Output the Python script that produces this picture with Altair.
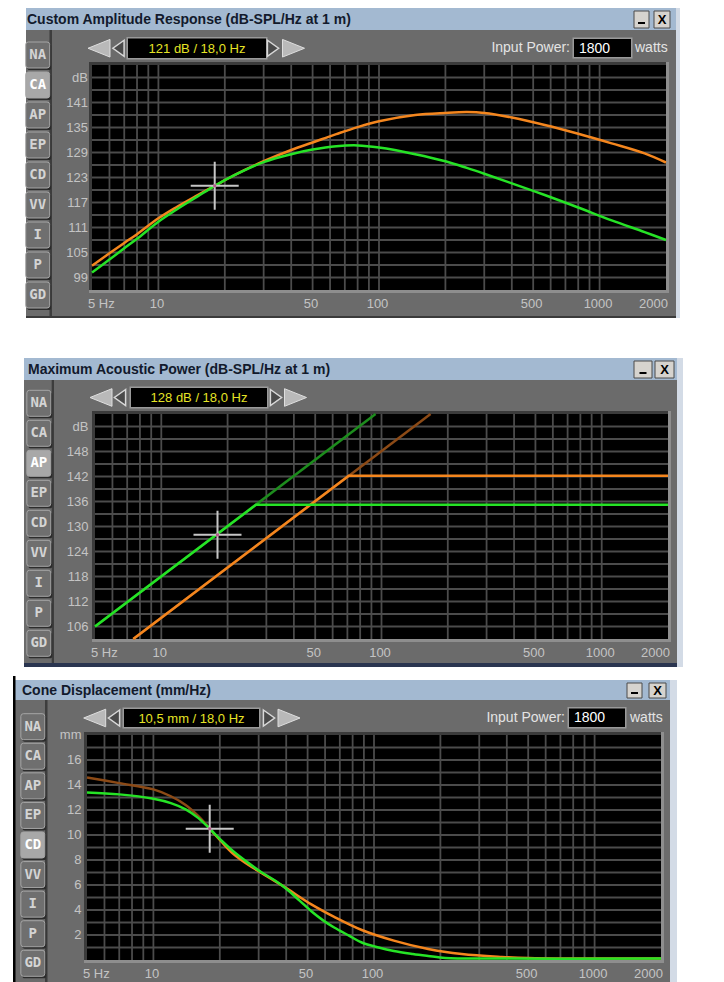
import altair as alt
import pandas as pd

SANS = "Liberation Sans"
MONO = "DejaVu Sans Mono"

# palette
ORANGE = "#f4861e"
BROWN = "#8c4a16"
GREEN = "#26e326"
DARK_GREEN = "#1d8c1d"
GRID = "#4b4b4b"
AXIS_TEXT = "#c4c4c4"
BODY = "#6b6b6b"
TITLE_BAR = "#a3b9d1"
EDGE = "#d3dbe6"
BEVEL_LIGHT = "#8e8e8e"
BEVEL_DARK = "#3b3b3b"
READOUT = "#e6e425"

TAB_NAMES = ["NA", "CA", "AP", "EP", "CD", "VV", "I", "P", "GD"]
GRID_FREQS = [6, 7, 8, 9, 10, 20, 30, 40, 50, 60, 70, 80, 90,
              100, 200, 300, 400, 500, 600, 700, 800, 900, 1000]
MID_FREQ_LABELS = [10, 50, 100, 500, 1000]
FREQ_MIN, FREQ_MAX = 5, 2000
INPUT_POWER_W = 1800
CURSOR_HZ = 18.0

# Custom Amplitude Response (dB-SPL)
ca_freq = [5, 6, 7, 8, 10, 12, 15, 18, 22, 30, 40, 50, 64, 80, 100, 146,
           200, 250, 300, 400, 564, 800, 1134, 1600, 2000]
ca_orange_db = [101.8, 104.8, 107.3, 109.4, 113.2, 115.8, 118.7, 121.0, 123.5,
                126.9, 129.6, 131.4, 133.4, 135.1, 136.5, 138.0, 138.5, 138.7,
                138.5, 137.4, 135.6, 133.5, 131.2, 128.8, 126.6]
ca_green_db = [100.2, 103.3, 106.0, 108.3, 112.4, 115.2, 118.4, 121.0, 123.5,
               126.7, 128.6, 129.7, 130.5, 130.7, 130.2, 128.6, 126.9, 125.3,
               123.9, 121.6, 118.8, 115.8, 112.7, 109.9, 108.0]
ca_cursor_db = 121

# Maximum Acoustic Power (dB-SPL)
ap_green_freq = [5, 26.9, 2000]
ap_green_db = [106, 135.2, 135.2]
ap_green_ext_freq = [5, 94]
ap_green_ext_db = [106, 157]
ap_orange_freq = [7.46, 71, 2000]
ap_orange_db = [103, 142.2, 142.2]
ap_orange_ext_freq = [7.46, 167]
ap_orange_ext_db = [103, 157]
ap_cursor_db = 128

# Cone Displacement (mm)
cd_orange_freq = [5, 7, 10, 12, 14, 16, 18, 20.5, 23, 27, 31, 40, 52, 66, 88,
                  123, 176, 250, 380, 500, 800, 2000]
cd_orange_mm = [14.6, 14.15, 13.65, 13.1, 12.4, 11.5, 10.5, 9.4, 8.5, 7.6, 6.95,
                5.75, 4.45, 3.45, 2.4, 1.55, 0.88, 0.48, 0.25, 0.16, 0.12, 0.12]
cd_green_freq = [5, 7, 10, 12, 14, 16, 18, 20.5, 23, 27, 31, 36, 40, 46, 52, 59,
                 66, 77, 88, 105, 123, 150, 176, 210, 250, 2000]
cd_green_mm = [13.4, 13.25, 12.9, 12.55, 12.05, 11.35, 10.5, 9.5, 8.7, 7.75, 7.0,
               6.3, 5.7, 4.75, 3.9, 3.15, 2.6, 1.95, 1.4, 1.0, 0.72, 0.48, 0.32,
               0.16, 0.12, 0.12]
cd_cursor_mm = 10.5

CROSS = "M-1,0L1,0M0,-1L0,1"
TAB_PATH = ("M-0.72,-1L0.72,-1Q0.92,-1 0.92,-0.8L0.92,0.8Q0.92,1 0.72,1"
            "L-0.72,1Q-0.92,1 -0.92,0.8L-0.92,-0.8Q-0.92,-1 -0.72,-1Z")
BIG_LEFT = "M1,-0.8L-1,0L1,0.8Z"
BIG_RIGHT = "M-1,-0.8L1,0L-1,0.8Z"
SMALL_LEFT = "M0.7,-1L-0.7,0L0.7,1Z"
SMALL_RIGHT = "M-0.7,-1L0.7,0L-0.7,1Z"

one = pd.DataFrame({"k": [0]})


def rect(x1, x2, y1, y2, fill, **kw):
    return alt.Chart(one).mark_rect(fill=fill, **kw).encode(
        x=alt.value(x1), x2=alt.value(x2), y=alt.value(y1), y2=alt.value(y2))


def text(s, x, y, size=13, color="#000000", align="left", weight="normal", font=SANS):
    return alt.Chart(one).mark_text(
        text=s, align=align, baseline="middle", fontSize=size, color=color,
        font=font, fontWeight=weight).encode(x=alt.value(x), y=alt.value(y))


def glyph(path, x, y, size, fill, stroke, sw=1.0):
    return alt.Chart(one).mark_point(
        shape=path, size=size, filled=True, fill=fill, stroke=stroke,
        strokeWidth=sw, opacity=1).encode(x=alt.value(x), y=alt.value(y))


def dec(v, digits):
    return f"{v:.{digits}f}".replace(".", ",")


def window(w):
    x1, x2 = w["x"]
    yb, yt, y2 = w["y"]
    L = [
        rect(x1, x2, yt, y2, BODY),
        rect(x2, x2 + w["edge"], yb, y2, EDGE),
        rect(x1, x2, yb, yt, TITLE_BAR),
        rect(w["divider"][0], w["divider"][1], yt, y2, "#3d3d3d"),
        text(w["title"], x1 + w["title_dx"], (yb + yt) / 2 + 0.5, size=14,
             color="#121a2c", weight="bold"),
    ]
    # title bar buttons
    (m1, m2), (c1, c2) = w["buttons"]
    by1, by2 = yb + 3, yt - 2
    L += [
        rect(m1, m2, by1, by2, "#d6d3ce", stroke="#4a4a4a", strokeWidth=1),
        rect((m1 + m2) / 2 - 3.5, (m1 + m2) / 2 + 3.5, by2 - 6, by2 - 4, "#000000"),
        rect(c1, c2, by1, by2, "#d6d3ce", stroke="#4a4a4a", strokeWidth=1),
        text("X", (c1 + c2) / 2, (by1 + by2) / 2 + 0.5, size=13, align="center",
             weight="bold"),
    ]
    # navigation arrows and cursor readout
    bl, sl, (r1, r2, ry1, ry2), sr, br = w["nav"]
    cy = (ry1 + ry2) / 2
    L += [
        glyph(BIG_LEFT, bl, cy, 484, "#b9b9b9", "#dedede"),
        glyph(SMALL_LEFT, sl, cy, 256, "#4a4a4a", "#d8d8d8", 1.5),
        rect(r1 - 1.5, r2 + 1.5, ry1 - 1.5, ry2 + 1.5, "#9a9a9a"),
        rect(r1, r2, ry1, ry2, "#000000"),
        text(w["readout"], (r1 + r2) / 2, cy + 0.5, size=13, color=READOUT,
             align="center"),
        glyph(SMALL_RIGHT, sr, cy, 256, "#4a4a4a", "#d8d8d8", 1.5),
        glyph(BIG_RIGHT, br, cy, 484, "#b9b9b9", "#dedede"),
    ]
    if "power" in w:
        lab_r, (p1, p2, py1, py2), watts_x = w["power"]
        pc = (py1 + py2) / 2
        L += [
            text("Input Power:", lab_r, pc, size=14, color="#e4e4e4", align="right"),
            rect(p1 - 1.5, p2 + 1.5, py1 - 1.5, py2 + 1.5, "#9a9a9a"),
            rect(p1, p2, py1, py2, "#000000"),
            text(str(INPUT_POWER_W), p1 + 5, pc + 0.5, size=14, color="#ffffff"),
            text("watts", watts_x, pc, size=14, color="#e4e4e4"),
        ]
    # mode tabs
    cx, (ty1, ty2) = w["tabs"]
    sel = w["selected"]
    tabs = pd.DataFrame({"tab": TAB_NAMES})
    ty = alt.Y("tab:N", scale=alt.Scale(type="point", domain=TAB_NAMES,
                                         range=[ty1, ty2], padding=0),
               axis=None, sort=None)
    L += [
        alt.Chart(tabs).mark_point(shape=TAB_PATH, size=676, filled=True,
                                   fill="#2c2c2c", opacity=1, xOffset=1.5,
                                   yOffset=2).encode(x=alt.value(cx), y=ty),
        alt.Chart(tabs).mark_point(shape=TAB_PATH, size=676, filled=True,
                                   stroke="#a6a6a6", strokeWidth=1, opacity=1).encode(
            x=alt.value(cx), y=ty,
            fill=alt.condition(alt.datum.tab == sel, alt.value("#a8a8a8"),
                               alt.value("#6f6f6f"))),
        alt.Chart(tabs).mark_text(font=MONO, fontWeight="bold", fontSize=14,
                                  baseline="middle", align="center").encode(
            x=alt.value(cx), y=ty, text="tab:N",
            color=alt.condition(alt.datum.tab == sel, alt.value("#ffffff"),
                                alt.value("#d4d4d4"))),
    ]
    return L


def plot(p):
    l, r, t, b = p["box"]
    xs = alt.Scale(type="log", domain=[FREQ_MIN, FREQ_MAX], range=[l, r], nice=False)
    ys = alt.Scale(domain=list(p["domain"]), range=[b, t], nice=False, zero=False)

    def X(f):
        return alt.X(f, scale=xs, axis=None)

    def Y(f):
        return alt.Y(f, scale=ys, axis=None)

    L = [
        rect(l - 3, r + 3, t - 3, b + 3, BEVEL_DARK),
        rect(r, r + 3, t - 3, b + 3, BEVEL_LIGHT),
        rect(l - 3, r + 3, b, b + 3, BEVEL_LIGHT),
        rect(l, r, t, b, "#000000"),
        alt.Chart(pd.DataFrame({"f": GRID_FREQS})).mark_rule(
            color=GRID, strokeWidth=1.8).encode(x=X("f:Q"), y=alt.value(t),
                                               y2=alt.value(b)),
        alt.Chart(pd.DataFrame({"v": p["grid"]})).mark_rule(
            color=GRID, strokeWidth=1.8).encode(y=Y("v:Q"), x=alt.value(l),
                                               x2=alt.value(r)),
    ]
    for freq, vals, color in p["series"]:
        L.append(alt.Chart(pd.DataFrame({"f": freq, "v": vals})).mark_line(
            color=color, strokeWidth=2.5, interpolate=p["interp"]).encode(
            x=X("f:Q"), y=Y("v:Q")))
    cur = pd.DataFrame({"f": [CURSOR_HZ], "v": [p["cursor"]]})
    L += [
        alt.Chart(cur).mark_point(shape=CROSS, size=48 * 48, filled=False,
                                  color="#c6c6c6", strokeWidth=2, opacity=1).encode(
            x=X("f:Q"), y=Y("v:Q")),
        alt.Chart(cur).mark_point(shape="square", size=9, filled=True,
                                  color="#b45a8c", opacity=1).encode(
            x=X("f:Q"), y=Y("v:Q")),
    ]
    ticks = p["ticks"]
    unit, unit_at = p["unit"]
    tick_df = pd.DataFrame({"v": ticks + [unit_at],
                            "txt": [str(v) for v in ticks] + [unit]})
    L.append(alt.Chart(tick_df).mark_text(
        align="right", baseline="middle", font=SANS, fontSize=13,
        color=AXIS_TEXT).encode(y=Y("v:Q"), x=alt.value(l - p["lab_off"]),
                                text="txt:N"))
    ly = b + 14
    style = dict(baseline="middle", font=SANS, fontSize=13, color=AXIS_TEXT)
    L += [
        alt.Chart(pd.DataFrame({"f": [FREQ_MIN], "txt": [f"{FREQ_MIN} Hz"]})).mark_text(
            align="left", dx=-4, **style).encode(x=X("f:Q"), y=alt.value(ly),
                                                 text="txt:N"),
        alt.Chart(pd.DataFrame({"f": MID_FREQ_LABELS,
                                "txt": [str(v) for v in MID_FREQ_LABELS]})).mark_text(
            align="center", dx=-1.5, **style).encode(x=X("f:Q"), y=alt.value(ly),
                                                     text="txt:N"),
        alt.Chart(pd.DataFrame({"f": [FREQ_MAX], "txt": [str(FREQ_MAX)]})).mark_text(
            align="right", dx=2, **style).encode(x=X("f:Q"), y=alt.value(ly),
                                                 text="txt:N"),
    ]
    return L


windows = [
    dict(title="Custom Amplitude Response (dB-SPL/Hz at 1 m)", x=(26, 676),
         y=(8, 30, 318), edge=4, title_dx=1, divider=(49.5, 52),
         buttons=((634, 649), (654, 670)),
         nav=(99, 118.5, (128, 266, 38.5, 58), 273, 293.5),
         readout=f"{ca_cursor_db} dB / {dec(CURSOR_HZ, 1)} Hz",
         power=(570, (574, 631, 39, 57), 635),
         tabs=(37.7, (55, 295)), selected="CA"),
    dict(title="Maximum Acoustic Power (dB-SPL/Hz at 1 m)", x=(24, 677),
         y=(358, 380, 667), edge=6, title_dx=4, divider=(51.7, 54),
         buttons=((634, 652), (655, 674)),
         nav=(101, 120, (131, 267, 388, 407), 276, 295.5),
         readout=f"{ap_cursor_db} dB / {dec(CURSOR_HZ, 1)} Hz",
         tabs=(38.8, (403.3, 643.3)), selected="AP"),
    dict(title="Cone Displacement (mm/Hz)", x=(15, 670),
         y=(680, 700, 982), edge=7, title_dx=7, divider=(45, 47.5),
         buttons=((627, 642), (649, 666)),
         nav=(94.7, 114, (124, 259, 709, 727), 269, 289),
         readout=f"{dec(cd_cursor_mm, 1)} mm / {dec(CURSOR_HZ, 1)} Hz",
         power=(565, (569, 625, 708.5, 727), 630),
         tabs=(32.8, (726.7, 963.3)), selected="CD"),
]

# the low-frequency part of the cone-displacement reference curve is drawn darker
cd_lo = [(f, v) for f, v in zip(cd_orange_freq, cd_orange_mm) if f <= CURSOR_HZ]
cd_hi = [(f, v) for f, v in zip(cd_orange_freq, cd_orange_mm) if f >= CURSOR_HZ]

plots = [
    dict(box=(92, 666, 65, 290), domain=(96, 150), grid=list(range(99, 148, 3)),
         ticks=list(range(99, 142, 6)), unit=("dB", 147), lab_off=4,
         cursor=ca_cursor_db, interp="catmull-rom",
         series=[(ca_freq, ca_orange_db, ORANGE), (ca_freq, ca_green_db, GREEN)]),
    dict(box=(95, 668, 414, 639), domain=(103, 157), grid=list(range(106, 155, 3)),
         ticks=list(range(106, 149, 6)), unit=("dB", 154), lab_off=6.5,
         cursor=ap_cursor_db, interp="linear",
         series=[(ap_orange_ext_freq, ap_orange_ext_db, BROWN),
                 (ap_orange_freq, ap_orange_db, ORANGE),
                 (ap_green_ext_freq, ap_green_ext_db, DARK_GREEN),
                 (ap_green_freq, ap_green_db, GREEN)]),
    dict(box=(87, 661, 735, 960), domain=(0, 18), grid=list(range(1, 18)),
         ticks=list(range(2, 17, 2)), unit=("mm", 18), lab_off=5.5,
         cursor=cd_cursor_mm, interp="catmull-rom",
         series=[([f for f, _ in cd_lo], [v for _, v in cd_lo], BROWN),
                 ([f for f, _ in cd_hi], [v for _, v in cd_hi], ORANGE),
                 (cd_green_freq, cd_green_mm, GREEN)]),
]

layers = []
for w, p in zip(windows, plots):
    layers += window(w)
    layers += plot(p)

# window borders
layers += [
    rect(26, 676, 316, 318, "#3a3a3a"),
    rect(24, 677, 663, 667, "#2a3550"),
    rect(13, 15.5, 676, 982, "#000000"),
]

chart = alt.layer(*layers).resolve_scale(
    x="independent", y="independent", color="independent", fill="independent"
).properties(
    width=724, height=982, padding=0,
    autosize=alt.AutoSizeParams(type="none"), background="#ffffff",
).configure_view(strokeWidth=0)

chart.save("out.html", embed_options={"renderer": "svg", "actions": False})
